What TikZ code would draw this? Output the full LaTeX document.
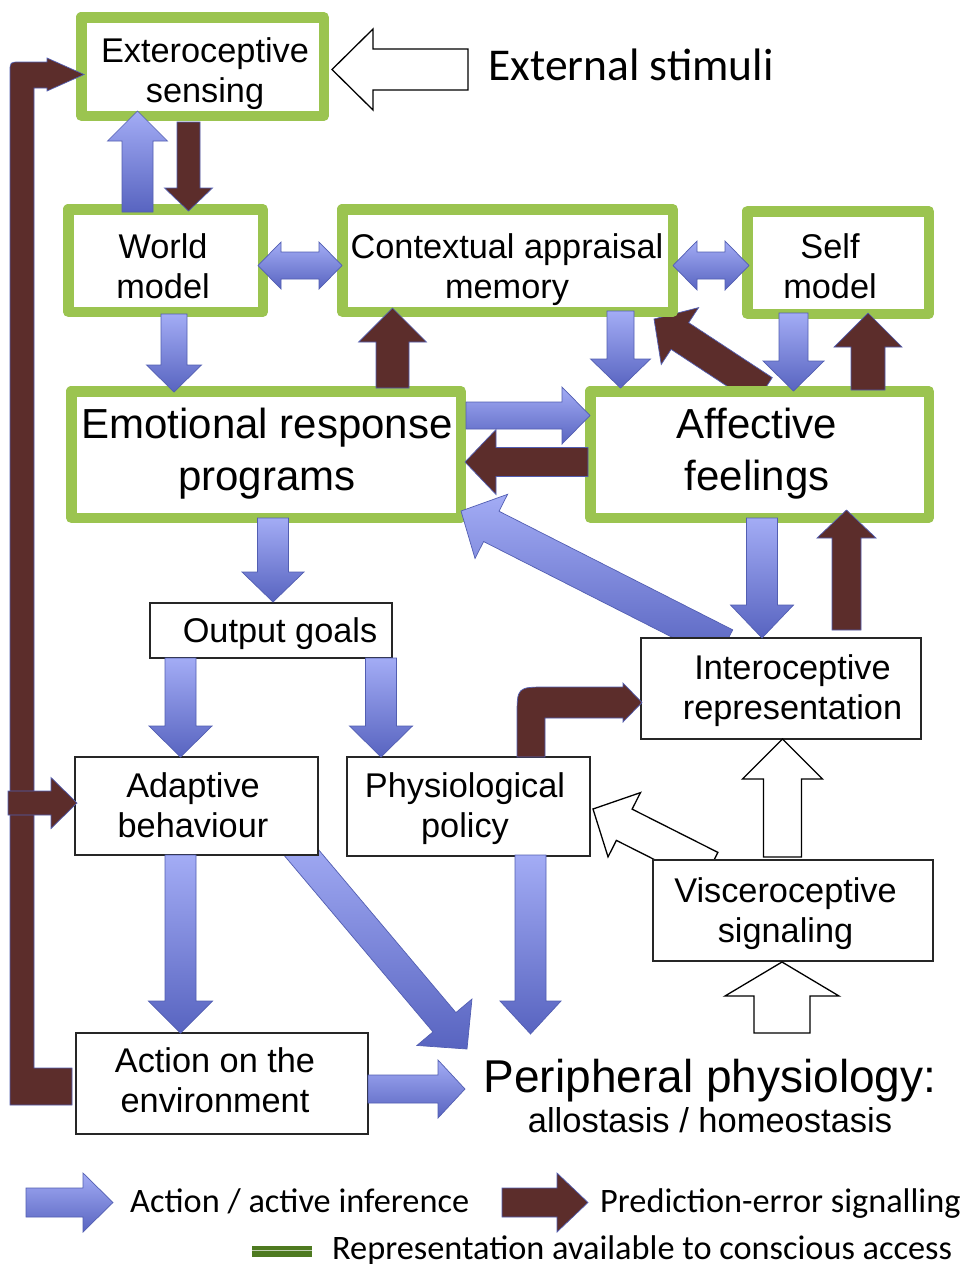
\documentclass[tikz,border=0pt]{standalone}
\usepackage{fontspec}
\setmainfont{Liberation Sans}
\newfontfamily\calfont{Carlito}
\usetikzlibrary{calc}
\definecolor{grn}{RGB}{155,196,80}
\definecolor{bltop}{RGB}{163,172,245}
\definecolor{blbot}{RGB}{88,100,192}
\definecolor{bledge}{RGB}{82,94,178}
\definecolor{brn}{RGB}{92,45,43}
\definecolor{dkgrn}{RGB}{78,122,32}
% single block arrow: style, tail, tip, shaft half width, head half width, head length
\newcommand\barrow[6]{%
  \coordinate (#2x) at ($(#3)!#6!(#2)$);
  \path[#1] ($(#2)!#4!90:(#3)$) -- ($(#2x)!#4!90:(#3)$) -- ($(#2x)!#5!90:(#3)$) -- (#3)
    -- ($(#2x)!#5!-90:(#3)$) -- ($(#2x)!#4!-90:(#3)$) -- ($(#2)!#4!-90:(#3)$) -- cycle;}
% double block arrow
\newcommand\darrow[6]{%
  \coordinate (#2x) at ($(#2)!#6!(#3)$);
  \coordinate (#3x) at ($(#3)!#6!(#2)$);
  \path[#1] (#2) -- ($(#2x)!#5!90:(#3)$) -- ($(#2x)!#4!90:(#3)$) -- ($(#3x)!#4!90:(#3)$)
    -- ($(#3x)!#5!90:(#3)$) -- (#3) -- ($(#3x)!#5!-90:(#3)$) -- ($(#3x)!#4!-90:(#3)$)
    -- ($(#2x)!#4!-90:(#3)$) -- ($(#2x)!#5!-90:(#3)$) -- cycle;}
\begin{document}
\begin{tikzpicture}[x=1pt,y=-1pt,
  gbox/.style={draw=grn,line width=10.5pt,line join=round,fill=white,inner sep=0pt,rectangle},
  kbox/.style={draw=black!85,line width=1.3pt,fill=white,inner sep=0pt,rectangle},
  txt/.style={font=\fontsize{34.3}{40}\selectfont,align=center,inner sep=0pt},
  bigtxt/.style={font=\fontsize{42}{52}\selectfont,align=center,inner sep=0pt},
  caltxt/.style={font=\calfont\fontsize{34.3}{40}\selectfont,inner sep=0pt},
  bluearr/.style={top color=bltop,bottom color=blbot,draw=bledge,line width=0.7pt},
  brownarr/.style={fill=brn,draw=bledge,line width=0.7pt},
  whitearr/.style={fill=white,draw=black,line width=1.3pt}]
\useasboundingbox[fill=white] (0,0) rectangle (966,1264);

% ---- diagonal brown arrow below green boxes
\coordinate (a2c-s) at (763.5,391);
\coordinate (a2c-t) at (654,319);
\barrow{brownarr}{a2c-s}{a2c-t}{16pt}{34pt}{31pt}

% ---- green boxes
\node[gbox,minimum width=242.5pt,minimum height=98.5pt] (ext) at (202.5,66.5) {};
\node[gbox,minimum width=194.5pt,minimum height=102.5pt] (world) at (165.5,260.5) {};
\node[gbox,minimum width=330.5pt,minimum height=102.5pt] (ctx) at (507.5,260.5) {};
\node[gbox,minimum width=181.5pt,minimum height=102.5pt] (self) at (838,262.5) {};
\node[gbox,minimum width=389.5pt,minimum height=126.5pt] (emo) at (266,454.5) {};
\node[gbox,minimum width=338.5pt,minimum height=126.5pt] (aff) at (759.5,454.5) {};

% ---- diagonal arrows with tails under black boxes
\coordinate (i2e-s) at (725,645);
\coordinate (i2e-t) at (461,511);
\barrow{bluearr}{i2e-s}{i2e-t}{17pt}{36pt}{34pt}
\coordinate (v2p-s) at (710,868);
\coordinate (v2p-t) at (593,809);
\barrow{whitearr}{v2p-s}{v2p-t}{17.5pt}{36pt}{35pt}
\coordinate (a2p-s) at (295,845);
\coordinate (a2p-t) at (467,1049);
\barrow{bluearr}{a2p-s}{a2p-t}{15pt}{36pt}{35pt}

% ---- black boxes
\node[kbox,minimum width=242pt,minimum height=55pt] (outg) at (271,630.5) {};
\node[kbox,minimum width=243pt,minimum height=98pt] (adapt) at (196.5,806) {};
\node[kbox,minimum width=243pt,minimum height=99pt] (phys) at (468.5,806.5) {};
\node[kbox,minimum width=280pt,minimum height=101pt] (intero) at (781,688.5) {};
\node[kbox,minimum width=280pt,minimum height=101pt] (visc) at (793,910.5) {};
\node[kbox,minimum width=292pt,minimum height=101pt] (action) at (222,1083.5) {};

% ---- blue arrows
\coordinate (w2x-s) at (137.5,212); \coordinate (w2x-t) at (137.5,111);
\barrow{bluearr}{w2x-s}{w2x-t}{15.5pt}{30pt}{30pt}
\coordinate (w2e-s) at (174,314); \coordinate (w2e-t) at (174,392);
\barrow{bluearr}{w2e-s}{w2e-t}{13pt}{27.5pt}{27pt}
\coordinate (c2a-s) at (620.5,311); \coordinate (c2a-t) at (620.5,388);
\barrow{bluearr}{c2a-s}{c2a-t}{13.5pt}{30pt}{29pt}
\coordinate (s2a-s) at (793.5,313); \coordinate (s2a-t) at (793.5,391);
\barrow{bluearr}{s2a-s}{s2a-t}{14.5pt}{30.5pt}{30pt}
\coordinate (e2a-s) at (466,415.5); \coordinate (e2a-t) at (590,415.5);
\barrow{bluearr}{e2a-s}{e2a-t}{13.5pt}{28.5pt}{28pt}
\coordinate (e2o-s) at (273,518); \coordinate (e2o-t) at (273,602);
\barrow{bluearr}{e2o-s}{e2o-t}{15.5pt}{31pt}{30pt}
\coordinate (a2i-s) at (762,518); \coordinate (a2i-t) at (762,638);
\barrow{bluearr}{a2i-s}{a2i-t}{15.5pt}{31.5pt}{33pt}
\coordinate (o2a-s) at (180.5,658); \coordinate (o2a-t) at (180.5,757);
\barrow{bluearr}{o2a-s}{o2a-t}{15.5pt}{31.5pt}{31pt}
\coordinate (o2p-s) at (381,658); \coordinate (o2p-t) at (381,757);
\barrow{bluearr}{o2p-s}{o2p-t}{15.5pt}{31.5pt}{31pt}
\coordinate (ad2ac-s) at (180.5,855); \coordinate (ad2ac-t) at (180.5,1033);
\barrow{bluearr}{ad2ac-s}{ad2ac-t}{15.5pt}{32pt}{32pt}
\coordinate (p2p-s) at (530.5,855); \coordinate (p2p-t) at (530.5,1034);
\barrow{bluearr}{p2p-s}{p2p-t}{15.5pt}{30.5pt}{33pt}
\coordinate (ac2p-s) at (368,1089); \coordinate (ac2p-t) at (465,1089);
\barrow{bluearr}{ac2p-s}{ac2p-t}{14pt}{29pt}{27pt}
\coordinate (wc-a) at (258,265.5); \coordinate (wc-b) at (342,265.5);
\darrow{bluearr}{wc-a}{wc-b}{13.5pt}{23.5pt}{23pt}
\coordinate (cs-a) at (673,265.5); \coordinate (cs-b) at (749,265.5);
\darrow{bluearr}{cs-a}{cs-b}{13.5pt}{24.5pt}{24pt}

% ---- brown arrows
\coordinate (x2w-s) at (188.5,122); \coordinate (x2w-t) at (188.5,211);
\barrow{brownarr}{x2w-s}{x2w-t}{11.5pt}{24pt}{23pt}
\coordinate (e2c-s) at (392.5,388); \coordinate (e2c-t) at (392.5,308);
\barrow{brownarr}{e2c-s}{e2c-t}{16.5pt}{34pt}{34pt}
\coordinate (a2s-s) at (868,390); \coordinate (a2s-t) at (868,313);
\barrow{brownarr}{a2s-s}{a2s-t}{17pt}{34pt}{34pt}
\coordinate (a2e-s) at (588,462); \coordinate (a2e-t) at (465,462);
\barrow{brownarr}{a2e-s}{a2e-t}{14.5pt}{32.5pt}{31pt}
\coordinate (i2a-s) at (846.5,630); \coordinate (i2a-t) at (846.5,510);
\barrow{brownarr}{i2a-s}{i2a-t}{14.5pt}{29.5pt}{28pt}
% bent arrow physiological policy -> interoceptive representation
\coordinate (p2i-s) at (531,757); \coordinate (p2i-t) at (642,702.5);
\path[brownarr] (p2i-s) ++(-14,0) -- (517,717) .. controls (517,687) .. (547,687) -- (623,687)
  -- (623,683) -- (p2i-t) -- (623,722) -- (623,718) -- (545,718) -- (545,757) -- cycle;
% long feedback loop action -> exteroceptive sensing
\coordinate (loop-s) at (72,1086.5); \coordinate (loop-t) at (84,74.5);
\path[brownarr] (72,1068) -- (34,1068) -- (34,88) -- (47,88) -- (47,91) -- (loop-t)
  -- (47,58) -- (47,62) -- (20,62) .. controls (10,62) .. (10,72) -- (10,1105) -- (72,1105) -- cycle;
\coordinate (br-s) at (8,803); \coordinate (br-t) at (77,803);
\barrow{brownarr}{br-s}{br-t}{12pt}{25.5pt}{26pt}

% ---- white arrows
\coordinate (stim-s) at (468,69.5); \coordinate (stim-t) at (332,69.5);
\barrow{whitearr}{stim-s}{stim-t}{20.5pt}{40.5pt}{41pt}
\coordinate (v2i-s) at (782.5,857); \coordinate (v2i-t) at (782.5,739);
\barrow{whitearr}{v2i-s}{v2i-t}{19pt}{40pt}{40pt}
\coordinate (in-s) at (782,1033); \coordinate (in-t) at (782,962);
\barrow{whitearr}{in-s}{in-t}{28pt}{57pt}{34pt}

% ---- texts
\node[txt] (ext-t) at (205,74.5) {\strut Exteroceptive\\\strut sensing};
\node[txt] (world-t) at (163,270) {\strut World\\\strut model};
\node[txt] (ctx-t) at (507,270) {\strut Contextual appraisal\\\strut memory};
\node[txt] (self-t) at (830,270) {\strut Self\\\strut model};
\node[bigtxt] (emo-t) at (267,453.6) {\strut Emotional response\\\strut programs};
\node[bigtxt] (aff-t) at (757,453.6) {\strut Affective\\\strut feelings};
\node[txt] (outg-t) at (280,634) {\strut Output goals};
\node[txt] (adapt-t) at (193,809) {\strut Adaptive\\\strut behaviour};
\node[txt] (phys-t) at (465,809) {\strut Physiological\\\strut policy};
\node[txt] (intero-t) at (792.5,691) {\strut Interoceptive\\\strut representation};
\node[txt] (visc-t) at (785.5,914) {\strut Visceroceptive\\\strut signaling};
\node[txt] (action-t) at (215,1084) {\strut Action on the\\\strut environment};
\node[inner sep=0pt,anchor=base,font=\fontsize{46}{52}\selectfont] (periph) at (710,1092) {Peripheral physiology:};
\node[inner sep=0pt,anchor=base,font=\fontsize{34.5}{40}\selectfont] (periph-sub) at (710,1132) {allostasis / homeostasis};
\node[inner sep=0pt,anchor=base west,font=\calfont\fontsize{45.5}{52}\selectfont] (stim) at (488,80) {External stimuli};

% ---- legend
\coordinate (lg1-s) at (26,1202.5); \coordinate (lg1-t) at (113,1202.5);
\barrow{bluearr}{lg1-s}{lg1-t}{14.5pt}{29.5pt}{30pt}
\coordinate (lg2-s) at (502,1202.5); \coordinate (lg2-t) at (588,1202.5);
\barrow{brownarr}{lg2-s}{lg2-t}{14.5pt}{29.5pt}{31pt}
\fill[dkgrn] (252,1246) rectangle (312,1257);
\draw[white!65!dkgrn,line width=1pt] (252,1250.5) -- (312,1250.5);
\node[caltxt,anchor=base west] (lg1) at (130,1212) {Action / active inference};
\node[caltxt,anchor=base west] (lg2) at (600,1212) {Prediction-error signalling};
\node[caltxt,anchor=base west] (lg3) at (332,1259) {Representation available to conscious access};
\end{tikzpicture}
\end{document}
